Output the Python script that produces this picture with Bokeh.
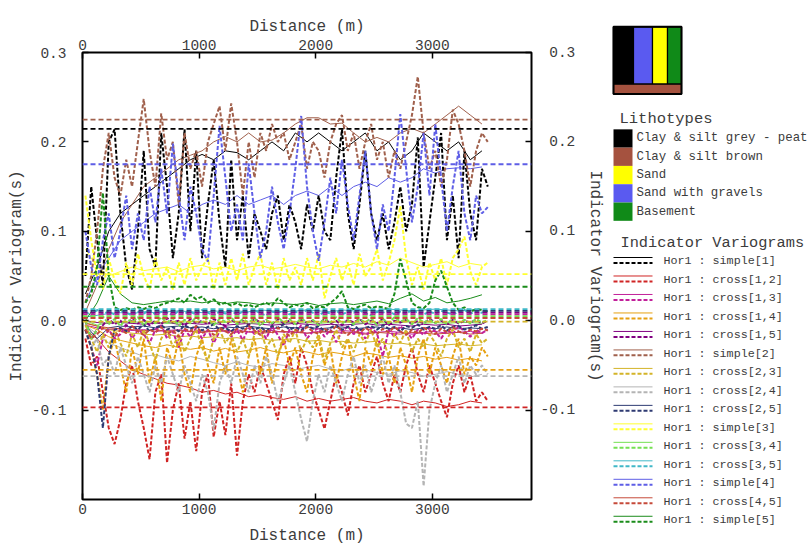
from bokeh.plotting import figure
from bokeh.models import Range1d, LinearAxis, FixedTicker, Span
from bokeh.embed import file_html
from bokeh.resources import INLINE
from bokeh.core.properties import value

FONT = "Liberation Mono"
TXT = "#3c3c3c"

# ---------------- data ----------------
LAGS = [25, 75, 125, 175, 225, 275, 325, 375, 425, 475,
        525, 575, 625, 675, 725, 775, 825, 875, 925, 975,
        1025, 1075, 1125, 1175, 1225, 1275, 1325, 1375, 1425, 1475,
        1525, 1575, 1625, 1675, 1725, 1775, 1825, 1875, 1925, 1975,
        2025, 2075, 2125, 2175, 2225, 2275, 2325, 2375, 2425, 2475,
        2525, 2575, 2625, 2675, 2725, 2775, 2825, 2875, 2925, 2975,
        3025, 3075, 3125, 3175, 3225, 3275, 3325, 3375, 3425, 3475]

LAGS_T = [25, 125, 225, 325, 425, 525, 625, 725, 825, 925,
          1025, 1125, 1225, 1325, 1425, 1525, 1625, 1725, 1825, 1925,
          2025, 2125, 2225, 2325, 2425, 2525, 2625, 2725, 2825, 2925,
          3025, 3125, 3225, 3325, 3425]

NAMES = ["simple[1]", "cross[1,2]", "cross[1,3]", "cross[1,4]", "cross[1,5]",
         "simple[2]", "cross[2,3]", "cross[2,4]", "cross[2,5]", "simple[3]",
         "cross[3,4]", "cross[3,5]", "simple[4]", "cross[4,5]", "simple[5]"]

COLORS = ["#000000", "#d02424", "#c2209a", "#e6a010", "#800080",
          "#a0604c", "#d4b428", "#b4b4b4", "#2e3a72", "#ffff30",
          "#74e052", "#40b8c8", "#5e5ee6", "#c64a3a", "#1a8c1a"]

SILLS = [0.2146, -0.097, 0.007, -0.055, 0.009,
         0.225, -0.001, -0.062, 0.011, 0.052,
         0.005, 0.013, 0.175, 0.003, 0.038]

# experimental variograms (dashed)
s1_exp = [0.05, 0.15, 0.09, 0.04, 0.20, 0.214, 0.12, 0.06, 0.035, 0.10,
          0.19, 0.08, 0.06, 0.21, 0.15, 0.07, 0.12, 0.214, 0.10, 0.19,
          0.07, 0.13, 0.18, 0.11, 0.06, 0.18, 0.09, 0.14, 0.07, 0.12,
          0.10, 0.08, 0.12, 0.14, 0.09, 0.13, 0.11, 0.08, 0.13, 0.10,
          0.14, 0.10, 0.09, 0.16, 0.214, 0.12, 0.08, 0.13, 0.19, 0.12,
          0.09, 0.12, 0.08, 0.11, 0.15, 0.10, 0.13, 0.205, 0.06, 0.11,
          0.16, 0.21, 0.09, 0.14, 0.07, 0.19, 0.12, 0.09, 0.17, 0.15]
c12_exp = [-0.02, -0.05, -0.04, -0.08, -0.12, -0.138, -0.11, -0.07, -0.05, -0.09,
           -0.12, -0.155, -0.08, -0.06, -0.159, -0.10, -0.07, -0.132, -0.09, -0.146,
           -0.08, -0.06, -0.130, -0.09, -0.128, -0.07, -0.151, -0.09, -0.06, -0.08,
           -0.05, -0.07, -0.09, -0.111, -0.06, -0.04, -0.07, -0.03, -0.05, -0.08,
           -0.10, -0.121, -0.09, -0.06, -0.08, -0.106, -0.07, -0.05, -0.08, -0.06,
           -0.04, -0.07, -0.09, -0.06, -0.08, -0.05, -0.03, -0.06, -0.08, -0.05,
           -0.07, -0.09, -0.108, -0.07, -0.05, -0.08, -0.06, -0.09, -0.08, -0.09]
c13_exp = [-0.01, -0.03, -0.05, -0.02, -0.01, -0.02, -0.015, -0.005, -0.02, -0.01,
           -0.015, -0.025, -0.01, -0.005, -0.02, -0.012, -0.03, -0.01, -0.018, -0.008,
           -0.02, -0.01, -0.025, -0.012, -0.006, -0.018, -0.01, -0.022, -0.008, -0.015,
           -0.01, -0.02, -0.006, -0.016, -0.028, -0.01, -0.015, -0.005, -0.02, -0.012,
           -0.008, -0.018, -0.01, -0.024, -0.012, -0.006, -0.015, -0.01, -0.02, -0.008,
           -0.014, -0.04, -0.01, -0.018, -0.006, -0.012, -0.02, -0.01, -0.016, -0.008,
           -0.012, -0.02, -0.01, -0.015, -0.006, -0.012, -0.018, -0.01, -0.014, -0.01]
c14_exp = [-0.01, -0.03, -0.06, -0.10, -0.04, -0.02, -0.05, -0.08, -0.03, -0.06,
           -0.02, -0.07, -0.04, -0.09, -0.03, -0.05, -0.02, -0.06, -0.08, -0.04,
           -0.02, -0.05, -0.07, -0.03, -0.06, -0.02, -0.05, -0.08, -0.04, -0.02,
           -0.06, -0.03, -0.07, -0.04, -0.02, -0.05, -0.03, -0.06, -0.08, -0.04,
           -0.02, -0.05, -0.03, -0.07, -0.04, -0.02, -0.06, -0.09, -0.03, -0.05,
           -0.02, -0.06, -0.04, -0.07, -0.03, -0.05, -0.08, -0.04, -0.02, -0.06,
           -0.03, -0.05, -0.07, -0.04, -0.02, -0.06, -0.04, -0.05, -0.03, -0.04]
c15_exp = [0.0, -0.02, -0.01, -0.005, 0.002, -0.004, 0.0, -0.006, 0.002, -0.003,
           0.001, -0.005, 0.0, -0.004, 0.003, -0.002, 0.0, -0.006, 0.002, -0.003,
           0.0, -0.004, 0.002, -0.002, -0.006, 0.001, -0.003, 0.0, -0.005, 0.002,
           -0.002, 0.0, -0.004, 0.002, -0.003, 0.0, -0.005, 0.001, -0.002, 0.0,
           -0.004, 0.002, -0.003, 0.0, -0.005, 0.001, -0.002, 0.002, -0.004, 0.0,
           -0.003, 0.002, -0.005, 0.0, -0.002, 0.001, -0.004, 0.0, -0.003, 0.002,
           -0.002, 0.0, -0.004, 0.001, -0.003, 0.0, -0.002, 0.001, -0.003, 0.0]
s2_exp = [0.02, 0.05, 0.10, 0.17, 0.21, 0.16, 0.14, 0.18, 0.15, 0.20,
          0.248, 0.19, 0.15, 0.232, 0.18, 0.20, 0.13, 0.21, 0.17, 0.19,
          0.15, 0.20, 0.22, 0.24, 0.19, 0.243, 0.20, 0.14, 0.20, 0.16,
          0.21, 0.19, 0.22, 0.20, 0.21, 0.18, 0.20, 0.22, 0.17, 0.20,
          0.19, 0.16, 0.20, 0.22, 0.23, 0.19, 0.21, 0.17, 0.20, 0.22,
          0.18, 0.20, 0.16, 0.19, 0.17, 0.20, 0.23, 0.273, 0.21, 0.17,
          0.19, 0.15, 0.18, 0.236, 0.22, 0.19, 0.15, 0.19, 0.21, 0.20]
c23_exp = [-0.005, -0.02, -0.035, -0.015, -0.03, -0.01, -0.025, -0.04, -0.015, -0.03,
           -0.01, -0.025, -0.045, -0.02, -0.01, -0.03, -0.015, -0.035, -0.02, -0.01,
           -0.03, -0.045, -0.02, -0.01, -0.025, -0.015, -0.035, -0.02, -0.04, -0.015,
           -0.01, -0.03, -0.02, -0.04, -0.015, -0.025, -0.01, -0.035, -0.02, -0.03,
           -0.015, -0.045, -0.025, -0.01, -0.03, -0.02, -0.035, -0.015, -0.025, -0.01,
           -0.03, -0.02, -0.04, -0.015, -0.025, -0.01, -0.035, -0.02, -0.03, -0.015,
           -0.025, -0.04, -0.02, -0.01, -0.03, -0.02, -0.035, -0.015, -0.025, -0.02]
c24_exp = [-0.01, -0.03, -0.02, -0.05, -0.04, -0.06, -0.03, -0.05, -0.07, -0.04,
           -0.06, -0.08, -0.05, -0.07, -0.04, -0.06, -0.08, -0.05, -0.07, -0.09,
           -0.06, -0.08, -0.122, -0.07, -0.05, -0.07, -0.04, -0.06, -0.08, -0.05,
           -0.07, -0.04, -0.06, -0.09, -0.07, -0.05, -0.08, -0.11, -0.135, -0.09,
           -0.06, -0.08, -0.05, -0.07, -0.09, -0.06, -0.04, -0.07, -0.05, -0.08,
           -0.06, -0.04, -0.07, -0.05, -0.08, -0.115, -0.12, -0.09, -0.185, -0.10,
           -0.07, -0.05, -0.08, -0.06, -0.04, -0.07, -0.05, -0.06, -0.05, -0.06]
c25_exp = [-0.01, -0.03, -0.06, -0.12, -0.04, -0.01, -0.008, -0.012, -0.006, -0.01,
           -0.004, -0.012, -0.008, -0.005, -0.01, -0.007, -0.012, -0.005, -0.009, -0.006,
           -0.011, -0.007, -0.004, -0.01, -0.008, -0.012, -0.006, -0.009, -0.005, -0.01,
           -0.007, -0.012, -0.006, -0.008, -0.004, -0.01, -0.007, -0.011, -0.005, -0.009,
           -0.006, -0.012, -0.008, -0.005, -0.01, -0.007, -0.004, -0.011, -0.008, -0.006,
           -0.01, -0.005, -0.009, -0.007, -0.012, -0.006, -0.008, -0.004, -0.01, -0.007,
           -0.009, -0.005, -0.011, -0.007, -0.006, -0.01, -0.008, -0.005, -0.009, -0.007]
s3_exp = [0.14, 0.09, 0.05, 0.035, 0.07, 0.045, 0.031, 0.065, 0.04, 0.075,
          0.05, 0.035, 0.07, 0.045, 0.06, 0.035, 0.065, 0.04, 0.07, 0.045,
          0.06, 0.07, 0.035, 0.065, 0.04, 0.07, 0.045, 0.075, 0.04, 0.06,
          0.075, 0.04, 0.065, 0.035, 0.07, 0.045, 0.06, 0.04, 0.07, 0.045,
          0.075, 0.025, 0.05, 0.07, 0.045, 0.065, 0.04, 0.075, 0.05, 0.06,
          0.08, 0.045, 0.065, 0.09, 0.128, 0.07, 0.04, 0.06, 0.035, 0.065,
          0.045, 0.07, 0.04, 0.07, 0.08, 0.094, 0.055, 0.04, 0.06, 0.065]
c34_exp = [0.0, -0.02, -0.01, 0.005, -0.004, 0.002, -0.006, 0.003, -0.002, 0.004,
           -0.005, 0.002, -0.003, 0.004, -0.002, 0.003, -0.006, 0.001, -0.003, 0.004,
           -0.002, 0.003, -0.005, 0.002, -0.001, 0.004, -0.004, 0.002, -0.002, 0.003,
           -0.006, 0.001, -0.003, 0.004, -0.002, 0.002, -0.004, 0.003, -0.002, 0.001,
           -0.005, 0.003, -0.002, 0.004, -0.003, 0.001, -0.004, 0.002, -0.002, 0.003,
           -0.005, 0.002, -0.003, 0.004, -0.001, 0.002, -0.004, 0.003, -0.002, 0.001,
           -0.003, 0.002, -0.004, 0.003, -0.002, 0.001, -0.003, 0.002, -0.002, 0.001]
c35_exp = [0.01, 0.006, 0.012, 0.008, 0.01, 0.007, 0.011, 0.009, 0.006, 0.01,
           0.008, 0.012, 0.007, 0.01, 0.009, 0.006, 0.011, 0.008, 0.01, 0.007,
           0.012, 0.009, 0.006, 0.01, 0.008, 0.011, 0.007, 0.01, 0.009, 0.012,
           0.008, 0.006, 0.01, 0.009, 0.011, 0.007, 0.01, 0.008, 0.012, 0.009,
           0.006, 0.01, 0.008, 0.011, 0.007, 0.01, 0.009, 0.012, 0.008, 0.006,
           0.01, 0.009, 0.011, 0.007, 0.01, 0.008, 0.012, 0.009, 0.007, 0.01,
           0.008, 0.011, 0.009, 0.007, 0.01, 0.012, 0.008, 0.01, 0.009, 0.011]
s4_exp = [0.10, 0.06, 0.04, 0.09, 0.12, 0.07, 0.10, 0.14, 0.08, 0.12,
          0.09, 0.15, 0.11, 0.17, 0.12, 0.198, 0.14, 0.09, 0.15, 0.12,
          0.08, 0.066, 0.14, 0.218, 0.16, 0.10, 0.13, 0.09, 0.176, 0.12,
          0.07, 0.10, 0.15, 0.11, 0.08, 0.12, 0.17, 0.229, 0.15, 0.10,
          0.067, 0.11, 0.16, 0.12, 0.18, 0.13, 0.09, 0.14, 0.19, 0.12,
          0.08, 0.13, 0.10, 0.16, 0.231, 0.17, 0.11, 0.15, 0.21, 0.14,
          0.22, 0.16, 0.10, 0.15, 0.19, 0.12, 0.09, 0.14, 0.12, 0.127]
c45_exp = [-0.01, -0.02, -0.015, -0.008, -0.012, -0.018, -0.01, -0.014, -0.006, -0.012,
           -0.016, -0.01, -0.013, -0.007, -0.015, -0.011, -0.018, -0.009, -0.012, -0.006,
           -0.014, -0.01, -0.016, -0.008, -0.012, -0.015, -0.009, -0.013, -0.006, -0.011,
           -0.016, -0.01, -0.014, -0.008, -0.012, -0.017, -0.01, -0.013, -0.007, -0.012,
           -0.015, -0.009, -0.013, -0.006, -0.011, -0.016, -0.01, -0.014, -0.008, -0.012,
           -0.015, -0.009, -0.013, -0.007, -0.012, -0.016, -0.01, -0.014, -0.008, -0.011,
           -0.015, -0.009, -0.013, -0.007, -0.012, -0.014, -0.01, -0.012, -0.009, -0.011]
s5_exp = [0.02, 0.03, 0.06, 0.143, 0.05, 0.015, 0.012, 0.014, 0.012, 0.015,
          0.013, 0.016, 0.014, 0.018, 0.02, 0.022, 0.025, 0.02, 0.029, 0.024,
          0.027, 0.02, 0.024, 0.018, 0.02, 0.017, 0.02, 0.016, 0.018, 0.015,
          0.018, 0.02, 0.017, 0.025, 0.02, 0.015, 0.018, 0.016, 0.02, 0.014,
          0.016, 0.015, 0.02, 0.025, 0.033, 0.015, 0.013, 0.016, 0.018, 0.014,
          0.016, 0.015, 0.013, 0.03, 0.069, 0.045, 0.02, 0.015, 0.014, 0.02,
          0.045, 0.056, 0.038, 0.02, 0.012, 0.015, 0.01, 0.013, 0.012, 0.01]

# thin solid curves
s1_thin = [0.03, 0.06, 0.10, 0.12, 0.13, 0.14, 0.15, 0.16, 0.17, 0.18,
           0.186, 0.18, 0.19, 0.188, 0.18, 0.19, 0.20, 0.19, 0.21, 0.20,
           0.21, 0.20, 0.19, 0.20, 0.21, 0.19, 0.20, 0.18, 0.19, 0.21,
           0.20, 0.19, 0.20, 0.18, 0.19]
c12_thin = [-0.01, -0.02, -0.035, -0.045, -0.055, -0.06, -0.065, -0.07, -0.072, -0.075,
            -0.08, -0.078, -0.082, -0.08, -0.085, -0.083, -0.086, -0.088, -0.085, -0.09,
            -0.087, -0.09, -0.088, -0.086, -0.09, -0.092, -0.088, -0.09, -0.094, -0.09,
            -0.092, -0.096, -0.094, -0.09, -0.092]
c13_thin = [-0.005, -0.008, -0.01, -0.009, -0.011, -0.01, -0.012, -0.011, -0.01, -0.012,
            -0.013, -0.011, -0.012, -0.01, -0.013, -0.012, -0.011, -0.013, -0.012, -0.014,
            -0.012, -0.013, -0.011, -0.012, -0.014, -0.013, -0.012, -0.013, -0.015, -0.013,
            -0.012, -0.014, -0.013, -0.012, -0.014]
c14_thin = [-0.005, -0.01, -0.018, -0.022, -0.025, -0.028, -0.03, -0.027, -0.03, -0.032,
            -0.03, -0.034, -0.031, -0.035, -0.033, -0.03, -0.034, -0.036, -0.033, -0.035,
            -0.038, -0.035, -0.037, -0.04, -0.036, -0.038, -0.041, -0.039, -0.042, -0.04,
            -0.043, -0.041, -0.044, -0.042, -0.045]
c15_thin = [0.0, -0.002, -0.003, -0.002, -0.003, -0.004, -0.003, -0.002, -0.004, -0.003,
            -0.004, -0.003, -0.005, -0.004, -0.003, -0.004, -0.005, -0.004, -0.003, -0.004,
            -0.005, -0.004, -0.005, -0.004, -0.003, -0.005, -0.004, -0.005, -0.006, -0.004,
            -0.005, -0.004, -0.006, -0.005, -0.004]
s2_thin = [0.01, 0.04, 0.08, 0.11, 0.13, 0.15, 0.16, 0.17, 0.18, 0.185,
           0.19, 0.20, 0.206, 0.20, 0.21, 0.20, 0.202, 0.21, 0.22, 0.227,
           0.227, 0.22, 0.221, 0.21, 0.20, 0.205, 0.20, 0.21, 0.215, 0.21,
           0.22, 0.23, 0.24, 0.23, 0.22]
c23_thin = [-0.002, -0.006, -0.01, -0.012, -0.014, -0.015, -0.016, -0.015, -0.018, -0.017,
            -0.019, -0.018, -0.02, -0.019, -0.021, -0.02, -0.022, -0.021, -0.02, -0.023,
            -0.022, -0.024, -0.023, -0.025, -0.024, -0.023, -0.026, -0.025, -0.027, -0.026,
            -0.028, -0.027, -0.026, -0.028, -0.027]
c24_thin = [-0.005, -0.015, -0.025, -0.03, -0.035, -0.04, -0.038, -0.042, -0.045, -0.04,
            -0.043, -0.047, -0.05, -0.046, -0.05, -0.052, -0.048, -0.05, -0.055, -0.052,
            -0.05, -0.054, -0.056, -0.052, -0.055, -0.058, -0.06, -0.056, -0.058, -0.062,
            -0.06, -0.057, -0.06, -0.063, -0.06]
c25_thin = [-0.005, -0.02, -0.008, -0.006, -0.007, -0.006, -0.008, -0.007, -0.006, -0.008,
            -0.007, -0.009, -0.007, -0.008, -0.006, -0.008, -0.009, -0.007, -0.008, -0.007,
            -0.009, -0.008, -0.007, -0.009, -0.008, -0.007, -0.009, -0.008, -0.01, -0.008,
            -0.009, -0.007, -0.009, -0.008, -0.009]
s3_thin = [0.08, 0.06, 0.05, 0.055, 0.06, 0.056, 0.058, 0.06, 0.055, 0.06,
           0.062, 0.058, 0.06, 0.056, 0.06, 0.062, 0.058, 0.06, 0.063, 0.06,
           0.058, 0.062, 0.06, 0.064, 0.06, 0.066, 0.062, 0.07, 0.065, 0.06,
           0.063, 0.066, 0.06, 0.064, 0.062]
c34_thin = [0.0, -0.005, -0.002, -0.001, -0.002, -0.001, -0.002, -0.003, -0.002, -0.001,
            -0.002, -0.003, -0.002, -0.001, -0.003, -0.002, -0.002, -0.003, -0.001, -0.002,
            -0.003, -0.002, -0.001, -0.002, -0.003, -0.002, -0.003, -0.002, -0.001, -0.003,
            -0.002, -0.003, -0.002, -0.002, -0.003]
c35_thin = [0.004, 0.006, 0.008, 0.009, 0.008, 0.01, 0.009, 0.01, 0.011, 0.01,
            0.009, 0.011, 0.01, 0.011, 0.01, 0.012, 0.011, 0.01, 0.011, 0.012,
            0.011, 0.01, 0.012, 0.011, 0.012, 0.011, 0.013, 0.012, 0.011, 0.012,
            0.013, 0.012, 0.011, 0.012, 0.013]
s4_thin = [0.02, 0.05, 0.07, 0.09, 0.10, 0.11, 0.12, 0.125, 0.13, 0.12,
           0.13, 0.135, 0.13, 0.14, 0.13, 0.135, 0.14, 0.13, 0.14, 0.145,
           0.14, 0.15, 0.14, 0.15, 0.155, 0.15, 0.16, 0.155, 0.16, 0.17,
           0.165, 0.17, 0.171, 0.17, 0.172]
c45_thin = [-0.003, -0.006, -0.008, -0.009, -0.01, -0.011, -0.01, -0.012, -0.011, -0.012,
            -0.013, -0.012, -0.011, -0.013, -0.012, -0.014, -0.013, -0.012, -0.013, -0.014,
            -0.013, -0.012, -0.014, -0.013, -0.015, -0.013, -0.014, -0.015, -0.013, -0.014,
            -0.015, -0.014, -0.013, -0.015, -0.014]
s5_thin = [0.0, 0.02, 0.05, 0.03, 0.02, 0.018, 0.02, 0.022, 0.021, 0.022,
           0.02, 0.022, 0.019, 0.021, 0.02, 0.018, 0.02, 0.019, 0.018, 0.02,
           0.017, 0.019, 0.02, 0.018, 0.02, 0.022, 0.019, 0.025, 0.03, 0.022,
           0.026, 0.02, 0.022, 0.025, 0.029]

EXP = [s1_exp, c12_exp, c13_exp, c14_exp, c15_exp, s2_exp, c23_exp, c24_exp,
       c25_exp, s3_exp, c34_exp, c35_exp, s4_exp, c45_exp, s5_exp]
THIN = [s1_thin, c12_thin, c13_thin, c14_thin, c15_thin, s2_thin, c23_thin, c24_thin,
        c25_thin, s3_thin, c34_thin, c35_thin, s4_thin, c45_thin, s5_thin]

X_TICKS = [0, 1000, 2000, 3000]
Y_TICKS = [-0.1, 0.0, 0.1, 0.2, 0.3]
Y_LABELS = ["-0.1", "0.0", "0.1", "0.2", "0.3"]

LITHO_NAMES = ["Clay & silt grey - peat", "Clay & silt brown", "Sand",
               "Sand with gravels", "Basement"]
LITHO_COLORS = ["#000000", "#a5523f", "#ffff00", "#5a5af0", "#108a18"]

# ---------------- layout constants (page pixels) ----------------
W, H = 812, 547
FL, FR, FT, FB = 82, 531, 52, 504   # frame edges

p = figure(width=W, height=H, x_range=Range1d(0, 3850), y_range=Range1d(-0.2, 0.3),
           output_backend="svg", toolbar_location=None,
           min_border_left=FL, min_border_right=W - FR,
           min_border_top=FT, min_border_bottom=H - FB)
p.grid.visible = False
p.outline_line_color = "black"
p.outline_line_width = 2
p.background_fill_color = "white"
p.border_fill_color = "white"

p.add_layout(LinearAxis(), "above")
p.add_layout(LinearAxis(), "right")

for ax in p.xaxis:
    ax.ticker = FixedTicker(ticks=X_TICKS, minor_ticks=[])
    ax.axis_label = "Distance (m)"
for ax in p.yaxis:
    ax.ticker = FixedTicker(ticks=Y_TICKS, minor_ticks=[])
    ax.axis_label = "Indicator Variogram(s)"

for ax in list(p.xaxis) + list(p.yaxis):
    ax.axis_line_color = None
    ax.major_tick_in = 6
    ax.major_tick_out = 0
    ax.major_tick_line_color = "black"
    ax.major_tick_line_width = 1.5
    ax.minor_tick_line_color = None
    ax.major_label_text_font = FONT
    ax.major_label_text_font_size = "14.5px"
    ax.major_label_text_color = TXT
    ax.axis_label_text_font = FONT
    ax.axis_label_text_font_size = "16px"
    ax.axis_label_text_font_style = "normal"
    ax.axis_label_text_color = TXT

left_ax, right_ax = p.yaxis[0], p.yaxis[1]
left_ax.major_label_overrides = {t: s for t, s in zip(Y_TICKS, Y_LABELS)}
right_ax.major_label_overrides = {t: (s if s.startswith("-") else "\u00a0" + s)
                                  for t, s in zip(Y_TICKS, Y_LABELS)}
left_ax.major_label_standoff = 16
left_ax.axis_label_standoff = 3
right_ax.major_label_standoff = 9
right_ax.axis_label_standoff = 8
bot_ax, top_ax = p.xaxis[0], p.xaxis[1]
bot_ax.major_label_standoff = 3
bot_ax.axis_label_standoff = 1
top_ax.major_label_standoff = 4
top_ax.axis_label_standoff = 10

# thin solid curves
for vals, col in zip(THIN, COLORS):
    p.line(LAGS_T[:len(vals)], vals, line_color=col, line_width=1)

# sills
for s, col in zip(SILLS, COLORS):
    p.add_layout(Span(location=s, dimension="width", line_color=col,
                      line_width=1.8, line_dash="5 3"))

# experimental curves
for vals, col in zip(EXP, COLORS):
    p.line(LAGS[:len(vals)], vals, line_color=col, line_width=2, line_dash="4 2")

# ---------------- legend (page-pixel ranges, drawn unclipped) ----------------
p.extra_x_ranges = {"px": Range1d(FL, FR)}
p.extra_y_ranges = {"py": Range1d(FB, FT)}
LG = dict(x_range_name="px", y_range_name="py", level="overlay")

RULE_L = [613, 633, 652, 667, 613]
RULE_R = [633, 652, 667, 681, 681]
RULE_T = [26, 26, 26, 26, 84]
RULE_B = [84, 84, 84, 84, 94]
RULE_C = [LITHO_COLORS[0], LITHO_COLORS[3], LITHO_COLORS[2], LITHO_COLORS[4], LITHO_COLORS[1]]
p.quad(left=RULE_L, right=RULE_R, top=RULE_T, bottom=RULE_B, fill_color=RULE_C,
       line_color="black", line_width=1.2, **LG)
p.quad(left=[613], right=[681], top=[26], bottom=[94], fill_color=None,
       line_color="black", line_width=2, **LG)

p.text(x=[619], y=[119], text=["Lithotypes"], text_font=value(FONT),
       text_font_size="15.5px", text_color=TXT, text_baseline="middle",
       text_align="left", **LG)
row_h = 18.5
tops = [129.7 + i * row_h for i in range(len(LITHO_NAMES))]
p.quad(left=[613] * len(tops), right=[632] * len(tops), top=tops,
       bottom=[t + row_h for t in tops], fill_color=LITHO_COLORS,
       line_color=None, **LG)
p.text(x=[636] * len(tops), y=[t + row_h / 2 for t in tops], text=LITHO_NAMES,
       text_font=value(FONT), text_font_size="12.4px", text_color=TXT,
       text_baseline="middle", text_align="left", **LG)

p.text(x=[620], y=[245], text=["Indicator Variograms"], text_font=value(FONT),
       text_font_size="15.3px", text_color=TXT, text_baseline="middle",
       text_align="left", **LG)
vrow = 18.69
for i, (nm, col) in enumerate(zip(NAMES, COLORS)):
    yc = 263.3 + i * vrow
    p.line([613, 652], [yc - 4, yc - 4], line_color=col, line_width=1, **LG)
    p.line([613, 652], [yc + 1.5, yc + 1.5], line_color=col, line_width=2,
           line_dash="4 2", **LG)
p.text(x=[663] * len(NAMES), y=[263.3 + i * vrow for i in range(len(NAMES))],
       text=["Hor1 : " + n for n in NAMES], text_font=value(FONT),
       text_font_size="11.7px", text_color=TXT, text_baseline="middle",
       text_align="left", **LG)

open("out.html", "w").write(file_html(p, INLINE))
